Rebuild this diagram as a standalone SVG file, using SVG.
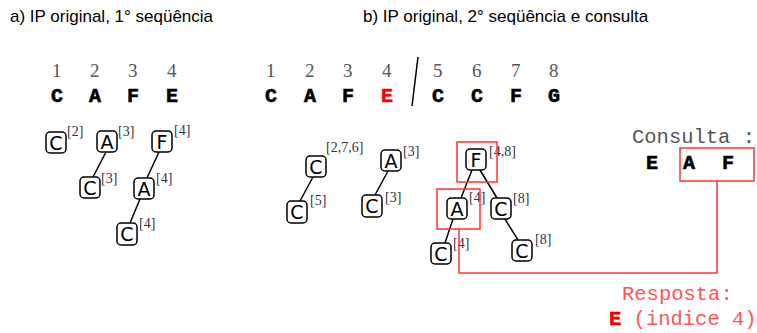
<svg xmlns="http://www.w3.org/2000/svg" width="757" height="333" viewBox="0 0 757 333">
<style>
.title{font-family:"Liberation Sans",Arial,sans-serif;font-size:17px;fill:#000}
.num{font-family:"Liberation Serif","Times New Roman",serif;font-size:19px;fill:#555}
.let{font-family:"Liberation Mono","Courier New",monospace;font-size:20px;font-weight:bold;fill:#000;stroke:#000;stroke-width:0.6}
.box{fill:#fff;stroke:#000;stroke-width:1.5}
.nl{font-family:"DejaVu Sans",sans-serif;font-size:19px;fill:#000;text-anchor:middle}
.sup{font-family:"Liberation Serif","Times New Roman",serif;font-size:14px;fill:#334}
.edge{stroke:#000;stroke-width:1.5;fill:none}
.red{stroke:#f33;stroke-width:1.5;fill:none}
.mono{font-family:"Liberation Mono","Courier New",monospace;font-size:20.5px}
</style>
<text class="title" x="10" y="22">a) IP original, 1° seqüência</text>
<text class="title" x="363" y="22">b) IP original, 2° seqüência e consulta</text>
<g id="seqA">
<text class="num" x="52" y="77">1</text><text class="num" x="90" y="77">2</text><text class="num" x="128" y="77">3</text><text class="num" x="167" y="77">4</text>
<text class="let" x="51" y="102">C</text><text class="let" x="89" y="102">A</text><text class="let" x="127" y="102">F</text><text class="let" x="166" y="102">E</text>
</g>
<g id="seqB">
<text class="num" x="266" y="77">1</text><text class="num" x="305" y="77">2</text><text class="num" x="343" y="77">3</text><text class="num" x="382" y="77">4</text>
<text class="num" x="433" y="77">5</text><text class="num" x="472" y="77">6</text><text class="num" x="511" y="77">7</text><text class="num" x="549" y="77">8</text>
<text class="let" x="265" y="102">C</text><text class="let" x="304" y="102">A</text><text class="let" x="342" y="102">F</text><text class="let" x="381" y="102" style="fill:#f00;stroke:#f00">E</text>
<text class="let" x="432" y="102">C</text><text class="let" x="471" y="102">C</text><text class="let" x="510" y="102">F</text><text class="let" x="548" y="102">G</text>
<line x1="418" y1="57" x2="412" y2="106" stroke="#000" stroke-width="1.5"/>
</g>
<g id="connectors">
<line class="edge" x1="106" y1="152" x2="93" y2="177"/>
<line class="edge" x1="159" y1="152" x2="147" y2="178"/>
<line class="edge" x1="140" y1="199" x2="130" y2="223"/>
<line class="edge" x1="313" y1="177" x2="300" y2="201"/>
<line class="edge" x1="388" y1="171" x2="375" y2="195"/>
<line class="edge" x1="472" y1="170" x2="461" y2="198"/>
<line class="edge" x1="480" y1="170" x2="497" y2="198"/>
<line class="edge" x1="453" y1="219" x2="445" y2="243"/>
<line class="edge" x1="505" y1="219" x2="518" y2="240"/>
</g>
<g id="a-C1"><rect class="box" x="46" y="132" width="20" height="21" rx="4"/><text class="nl" x="56" y="150">C</text><text class="sup" x="67" y="136">[2]</text></g>
<g id="a-A1"><rect class="box" x="97" y="131" width="20" height="21" rx="4"/><text class="nl" x="107" y="149">A</text><text class="sup" x="118" y="136">[3]</text></g>
<g id="a-C2"><rect class="box" x="80" y="177" width="20" height="21" rx="4"/><text class="nl" x="90" y="195">C</text><text class="sup" x="101" y="183">[3]</text></g>
<g id="a-F1"><rect class="box" x="152" y="131" width="20" height="21" rx="4"/><text class="nl" x="162" y="149">F</text><text class="sup" x="174" y="135">[4]</text></g>
<g id="a-A2"><rect class="box" x="134" y="178" width="20" height="21" rx="4"/><text class="nl" x="144" y="196">A</text><text class="sup" x="156" y="183">[4]</text></g>
<g id="a-C3"><rect class="box" x="117" y="223" width="20" height="22" rx="4"/><text class="nl" x="127" y="241">C</text><text class="sup" x="139" y="228">[4]</text></g>
<g id="b-C1"><rect class="box" x="306" y="156" width="20" height="21" rx="4"/><text class="nl" x="316" y="174">C</text><text class="sup" x="326" y="152">[2,7,6]</text></g>
<g id="b-C2"><rect class="box" x="287" y="201" width="20" height="22" rx="4"/><text class="nl" x="297" y="219">C</text><text class="sup" x="310" y="205">[5]</text></g>
<g id="b-A1"><rect class="box" x="381" y="150" width="20" height="21" rx="4"/><text class="nl" x="391" y="168">A</text><text class="sup" x="403" y="156">[3]</text></g>
<g id="b-C3"><rect class="box" x="362" y="195" width="20" height="22" rx="4"/><text class="nl" x="372" y="213">C</text><text class="sup" x="385" y="202">[3]</text></g>
<g id="b-F"><rect class="box" x="466" y="149" width="20" height="21" rx="4"/><text class="nl" x="476" y="167">F</text><text class="sup" x="489" y="156">[4,8]</text></g>
<g id="b-A2"><rect class="box" x="447" y="198" width="20" height="21" rx="4"/><text class="nl" x="457" y="216">A</text><text class="sup" x="469" y="202">[4]</text></g>
<g id="b-C4"><rect class="box" x="491" y="198" width="20" height="21" rx="4"/><text class="nl" x="501" y="216">C</text><text class="sup" x="513" y="203">[8]</text></g>
<g id="b-C5"><rect class="box" x="431" y="243" width="20" height="21" rx="4"/><text class="nl" x="441" y="261">C</text><text class="sup" x="453" y="248">[4]</text></g>
<g id="b-C6"><rect class="box" x="512" y="240" width="20" height="21" rx="4"/><text class="nl" x="522" y="258">C</text><text class="sup" x="535" y="244">[8]</text></g>
<g id="highlight">
<rect class="red" x="457" y="142" width="40" height="40"/>
<rect class="red" x="437" y="189" width="43" height="40"/>
<rect class="red" x="680" y="148" width="74" height="33"/>
<polyline class="red" points="459,229 459,273 717,273 717,181"/>
</g>
<g id="consulta">
<text class="mono" x="632" y="143" fill="#555">Consulta :</text>
<text class="let" x="646" y="169">E</text><text class="let" x="683" y="169">A</text><text class="let" x="722" y="169">F</text>
</g>
<g id="resposta">
<text class="mono" x="622" y="300" fill="#f55">Resposta:</text>
<text class="mono" x="609" y="325" fill="#f55"><tspan font-weight="bold" fill="#e00" stroke="#e00" stroke-width="0.6">E</tspan> (indice 4)</text>
</g>
</svg>
